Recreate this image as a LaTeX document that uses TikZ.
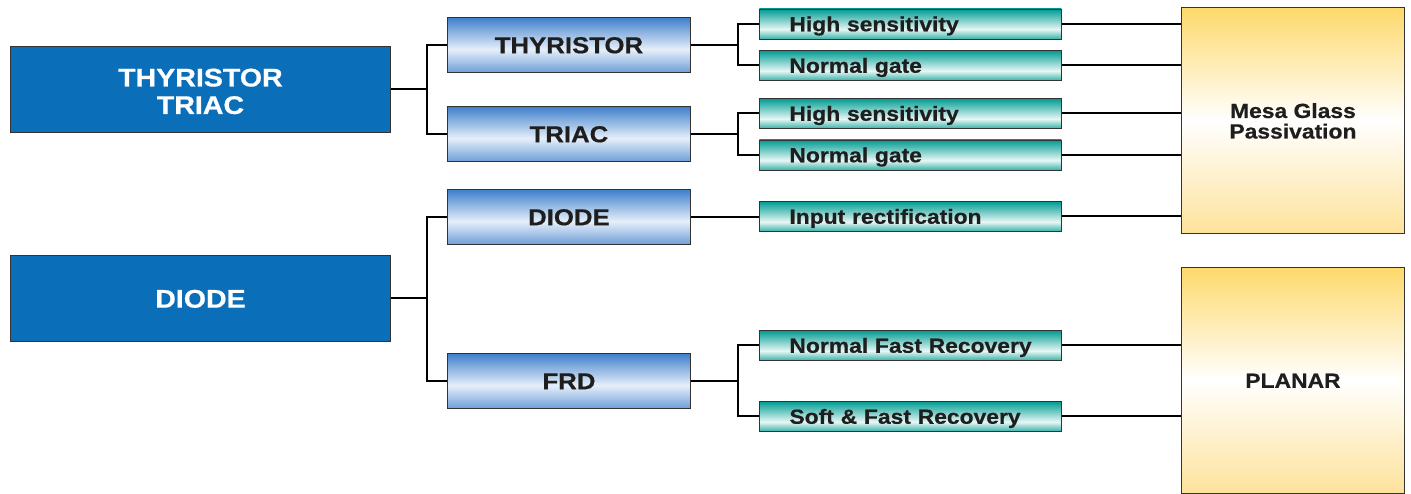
\documentclass[tikz,border=0pt]{standalone}
\usepackage{fontspec}
\newfontfamily\hb[FakeStretch=1.12,FakeBold=0.6]{Liberation Sans}
\definecolor{bigblue}{HTML}{0A6EB8}
\definecolor{bluetop}{HTML}{3E7FCB}
\definecolor{bluemid}{HTML}{E6EFFA}
\definecolor{bluebot}{HTML}{6E9FD8}
\definecolor{tealtop}{HTML}{009C93}
\definecolor{tealmid}{HTML}{E8F7F5}
\definecolor{tealbot}{HTML}{36B2A8}
\definecolor{yeltop}{HTML}{FDD96B}
\definecolor{yelmid}{HTML}{FFFFFF}
\definecolor{yelbot}{HTML}{FDE29A}
\definecolor{txt}{HTML}{1E1E1E}
\pgfdeclareverticalshading{bluesh}{100bp}{color(0bp)=(bluebot); color(25bp)=(bluebot); color(46bp)=(bluemid); color(75bp)=(bluetop); color(100bp)=(bluetop)}
\pgfdeclareverticalshading{tealsh}{100bp}{color(0bp)=(tealbot); color(25bp)=(tealbot); color(41bp)=(tealmid); color(75bp)=(tealtop); color(100bp)=(tealtop)}
\pgfdeclareverticalshading{yelsh}{100bp}{color(0bp)=(yelbot); color(25bp)=(yelbot); color(50bp)=(yelmid); color(75bp)=(yeltop); color(100bp)=(yeltop)}
\tikzset{
  base/.style={draw=black!80, line width=0.9pt, anchor=north west, inner sep=0pt, text depth=0pt},
  bigbox/.style={base, fill=bigblue, minimum width=380pt, minimum height=86pt, text=white, align=center,
    text height=18.3pt, font=\hb\bfseries\fontsize{25.5}{27.5}\selectfont},
  midbox/.style={base, shading=bluesh, minimum width=243pt, minimum height=55pt, text=txt,
    text height=16.5pt, font=\hb\bfseries\fontsize{23}{25}\selectfont},
  leafbox/.style={base, shading=tealsh, minimum width=302pt, minimum height=30pt, text=txt,
    text height=14.6pt, inner xsep=0pt, text width=300pt, align=left,
    font=\hb\bfseries\fontsize{20.4}{22}\selectfont},
  techbox/.style={base, shading=yelsh, minimum width=223pt, text=txt, align=center,
    text height=14.6pt, font=\hb\bfseries\fontsize{20.4}{20.5}\selectfont},
  conn/.style={draw=black, line width=2pt}
}
\begin{document}
\begin{tikzpicture}[x=1pt,y=-1pt]
\useasboundingbox (0,0) rectangle (1411,493);
% level 1
\node[bigbox, text height=49pt] (L1) at (10,46) {THYRISTOR\\TRIAC};
\node[bigbox] (L2) at (10,255) {DIODE};
% level 2
\node[midbox] (M1) at (447,17) {THYRISTOR};
\node[midbox] (M2) at (447,106) {TRIAC};
\node[midbox] (M3) at (447,189) {DIODE};
\node[midbox] (M4) at (447,353) {FRD};
% level 3
\node[leafbox] (T1) at (759,8.5) {\hspace*{29pt}High sensitivity};
\node[leafbox] (T2) at (759,50) {\hspace*{29pt}Normal gate};
\node[leafbox] (T3) at (759,98) {\hspace*{29pt}High sensitivity};
\node[leafbox] (T4) at (759,139.5) {\hspace*{29pt}Normal gate};
\node[leafbox] (T5) at (759,201) {\hspace*{29pt}Input rectification};
\node[leafbox] (T6) at (759,330) {\hspace*{29pt}Normal Fast Recovery};
\node[leafbox] (T7) at (759,401) {\hspace*{29pt}Soft \& Fast Recovery};
% technologies
\node[techbox, minimum height=226pt, text height=36pt] (Y1) at (1181,7) {Mesa Glass\\Passivation};
\node[techbox, minimum height=226pt] (Y2) at (1181,267) {PLANAR};
% connectors
\draw[conn] (L1.east) -- ++(36,0) |- (M1.west);
\draw[conn] (L1.east) -- ++(36,0) |- (M2.west);
\draw[conn] (L2.east) -- ++(36,0) |- (M3.west);
\draw[conn] (L2.east) -- ++(36,0) |- (M4.west);
\draw[conn] (M1.east) -- ++(47,0) |- (T1.west);
\draw[conn] (M1.east) -- ++(47,0) |- (T2.west);
\draw[conn] (M2.east) -- ++(47,0) |- (T3.west);
\draw[conn] (M2.east) -- ++(47,0) |- (T4.west);
\draw[conn] (M3.east) -- (M3.east -| T5.west);
\draw[conn] (M4.east) -- ++(47,0) |- (T6.west);
\draw[conn] (M4.east) -- ++(47,0) |- (T7.west);
\foreach \t in {T1,T2,T3,T4,T5} \draw[conn] (\t.east) -- (\t.east -| Y1.west);
\foreach \t in {T6,T7} \draw[conn] (\t.east) -- (\t.east -| Y2.west);
\end{tikzpicture}
\end{document}
